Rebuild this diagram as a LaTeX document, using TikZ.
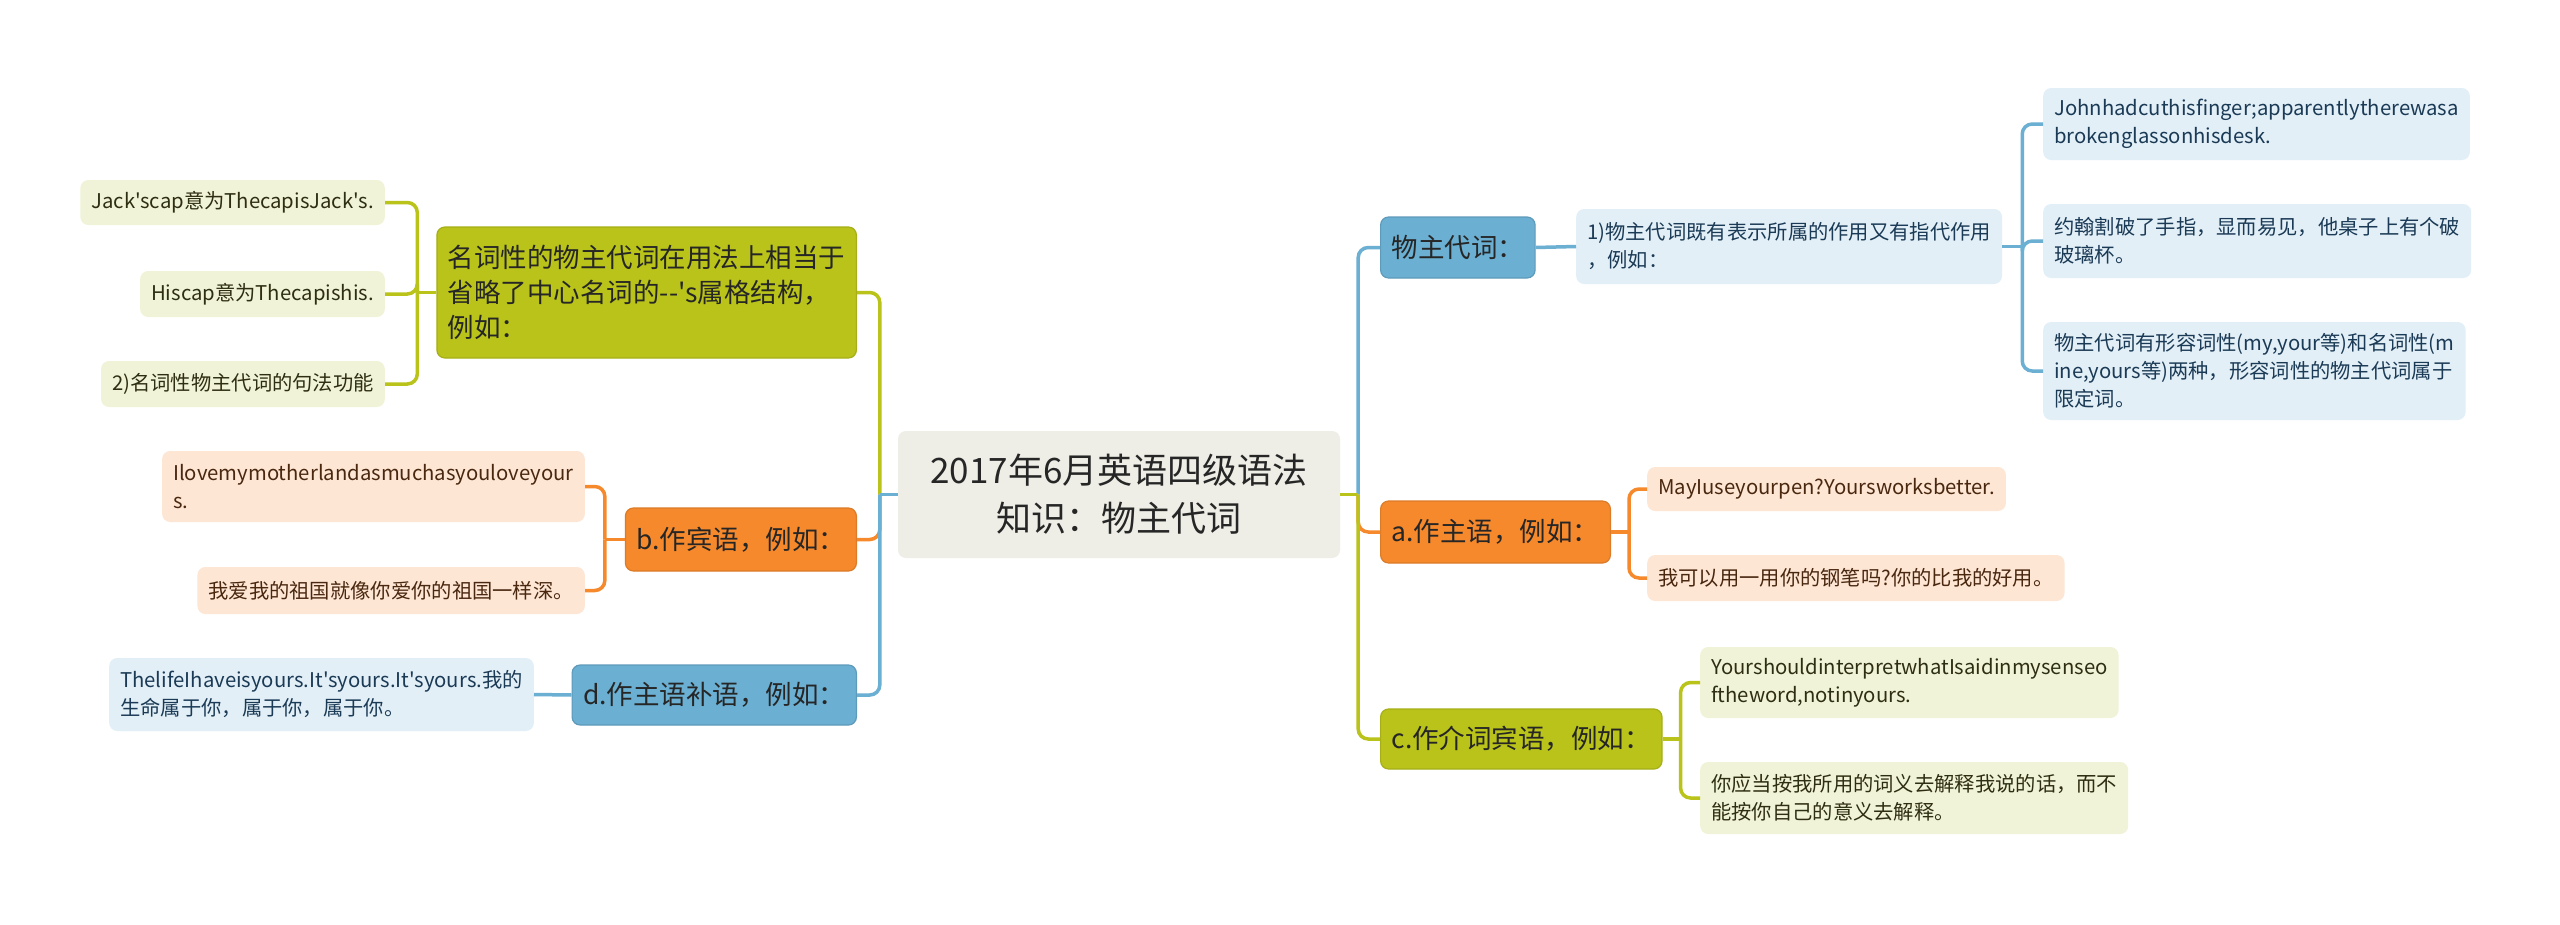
\documentclass[tikz,border=0pt]{standalone}
\usepackage{fontspec}
\setmainfont{Noto Sans CJK SC}[Ligatures=TeXOff]
\usetikzlibrary{calc,positioning}

\definecolor{rootfill}{HTML}{EEEEE6}
\definecolor{bluemid}{HTML}{6BAFD2}
\definecolor{orangemid}{HTML}{F5892C}
\definecolor{olivemid}{HTML}{B9C31A}
\definecolor{bluelite}{HTML}{E2EFF7}
\definecolor{peachlite}{HTML}{FDE6D4}
\definecolor{olivelite}{HTML}{F1F3D8}
\definecolor{bluetext}{HTML}{1B3A55}
\definecolor{browntext}{HTML}{4A2810}
\definecolor{olivetext}{HTML}{2E2E12}

\tikzset{
  box/.style={rounded corners=8pt, inner xsep=11pt, inner ysep=6pt, align=left},
  rootbox/.style={box, fill=rootfill, text=black!85, align=center,
    font=\fontsize{35}{48}\selectfont},
  midbox/.style={box, line width=1.2pt, text=black!85,
    font=\fontsize{26.5}{35}\selectfont},
  bluebox/.style={midbox, fill=bluemid, draw=bluemid!88!black},
  orangebox/.style={midbox, fill=orangemid, draw=orangemid!90!black},
  olivebox/.style={midbox, fill=olivemid, draw=olivemid!90!black},
  leaf/.style={box, font=\fontsize{20.3}{28}\selectfont},
  blueleaf/.style={leaf, fill=bluelite, text=bluetext},
  peachleaf/.style={leaf, fill=peachlite, text=browntext},
  oliveleaf/.style={leaf, fill=olivelite, text=olivetext},
  link/.style={line width=3.5pt, rounded corners=10pt},
  bluelink/.style={link, draw=bluemid},
  orangelink/.style={link, draw=orangemid},
  olivelink/.style={link, draw=olivemid}
}

\begin{document}
\begin{tikzpicture}[x=1pt, y=-1pt]
  \useasboundingbox[fill=white] (0,0) rectangle (2560,924);

  \node (root) at (1119,494.5) [rootbox, minimum width=442, minimum height=127] {2017年6月英语四级语法\\知识：物主代词};

  % left half
  \node (nm) at (857,292.5) [olivebox, anchor=east, minimum height=131] {名词性的物主代词在用法上相当于\\省略了中心名词的--'s属格结构，\\例如：};
  \node (bb) at (857,539.5) [orangebox, anchor=east, minimum height=63] {b.作宾语，例如：};
  \node (dd) at (857,695) [bluebox, anchor=east, minimum height=60] {d.作主语补语，例如：};

  \node (nm1) at (385,202.5) [oliveleaf, anchor=east, minimum height=45] {Jack'scap意为ThecapisJack's.};
  \node (nm2) at (385,294) [oliveleaf, anchor=east, minimum height=46] {Hiscap意为Thecapishis.};
  \node (nm3) at (385,384) [oliveleaf, anchor=east, minimum height=46] {2)名词性物主代词的句法功能};
  \node (bb1) at (585,486.5) [peachleaf, anchor=east, minimum height=71] {Ilovemymotherlandasmuchasyouloveyour\\s.};
  \node (bb2) at (585,590.5) [peachleaf, anchor=east, minimum height=47] {我爱我的祖国就像你爱你的祖国一样深。};
  \node (dd1) at (534,694.5) [blueleaf, anchor=east, minimum height=73] {ThelifeIhaveisyours.It'syours.It'syours.我的\\生命属于你，属于你，属于你。};

  % right half
  \node (wz) at (1380,247.5) [bluebox, anchor=west, minimum height=61] {物主代词：};
  \node (aa) at (1380,532) [orangebox, anchor=west, minimum height=62] {a.作主语，例如：};
  \node (cc) at (1380,739) [olivebox, anchor=west, minimum height=60] {c.作介词宾语，例如：};

  \node (wz1) at (1576,246.5) [blueleaf, anchor=west, minimum height=75] {1)物主代词既有表示所属的作用又有指代作用\\，例如：};
  \node (wz2) at (2043,124) [blueleaf, anchor=west, minimum height=72] {Johnhadcuthisfinger;apparentlytherewasa\\brokenglassonhisdesk.};
  \node (wz3) at (2043,241) [blueleaf, anchor=west, minimum height=74] {约翰割破了手指，显而易见，他桌子上有个破\\玻璃杯。};
  \node (wz4) at (2043,371) [blueleaf, anchor=west, minimum height=98] {物主代词有形容词性(my,your等)和名词性(m\\ine,yours等)两种，形容词性的物主代词属于\\限定词。};
  \node (aa1) at (1647,489) [peachleaf, anchor=west, minimum height=44] {MayIuseyourpen?Yoursworksbetter.};
  \node (aa2) at (1647,578) [peachleaf, anchor=west, minimum height=46] {我可以用一用你的钢笔吗?你的比我的好用。};
  \node (cc1) at (1700,682.5) [oliveleaf, anchor=west, minimum height=71] {YourshouldinterpretwhatIsaidinmysenseo\\ftheword,notinyours.};
  \node (cc2) at (1700,798) [oliveleaf, anchor=west, minimum height=72] {你应当按我所用的词义去解释我说的话，而不\\能按你自己的意义去解释。};

  % junctions
  \coordinate (lj) at ([xshift=-18pt]root.west);
  \coordinate (rj) at ([xshift=18pt]root.east);
  \coordinate (nmj) at ([xshift=-19pt]nm.west);
  \coordinate (bbj) at ([xshift=-20pt]bb.west);
  \coordinate (wzj) at ([xshift=20pt]wz1.east);
  \coordinate (aaj) at ([xshift=18pt]aa.east);
  \coordinate (ccj) at ([xshift=18pt]cc.east);

  \draw[olivelink] (lj) |- (nm.east);
  \draw[orangelink] (lj) |- (bb.east);
  \draw[bluelink] (lj) |- (dd.east);
  \draw[bluelink] (root.west) -- (lj);

  \draw[bluelink] (rj) |- (wz.west);
  \draw[orangelink] (rj) |- (aa.west);
  \draw[olivelink] (rj) |- (cc.west);
  \draw[olivelink] (root.east) -- (rj);

  \draw[olivelink] (nm.west) -- (nmj);
  \foreach \n in {nm1,nm2,nm3} \draw[olivelink] (nmj) |- (\n.east);
  \draw[orangelink] (bb.west) -- (bbj);
  \foreach \n in {bb1,bb2} \draw[orangelink] (bbj) |- (\n.east);
  \draw[bluelink] (dd.west) -- (dd1.east);

  \draw[bluelink] (wz.east) -- (wz1.west);
  \draw[bluelink] (wz1.east) -- (wzj);
  \foreach \n in {wz2,wz3,wz4} \draw[bluelink] (wzj) |- (\n.west);
  \draw[orangelink] (aa.east) -- (aaj);
  \foreach \n in {aa1,aa2} \draw[orangelink] (aaj) |- (\n.west);
  \draw[olivelink] (cc.east) -- (ccj);
  \foreach \n in {cc1,cc2} \draw[olivelink] (ccj) |- (\n.west);
\end{tikzpicture}
\end{document}
